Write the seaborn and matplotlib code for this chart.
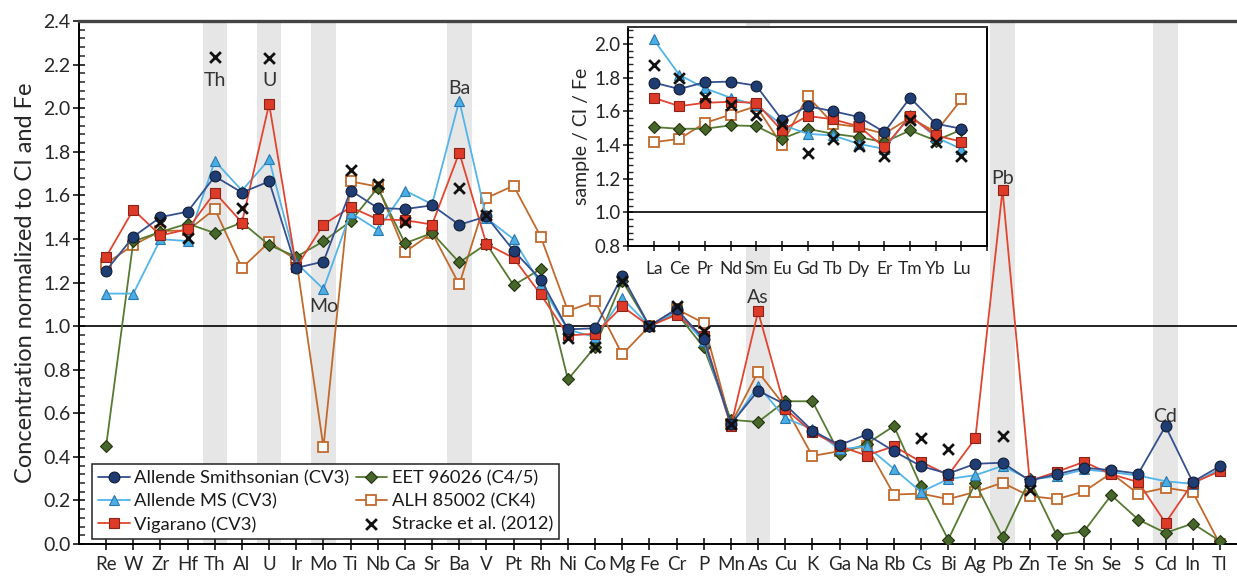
import numpy as np
import pandas as pd
import matplotlib
matplotlib.use("Agg")
import matplotlib.pyplot as plt
from matplotlib.ticker import AutoMinorLocator
import seaborn as sns

# ---- main panel: element sequence ----
elements = ["Re", "W", "Zr", "Hf", "Th", "Al", "U", "Ir", "Mo", "Ti", "Nb", "Ca", "Sr", "Ba",
            "V", "Pt", "Rh", "Ni", "Co", "Mg", "Fe", "Cr", "P", "Mn", "As", "Cu", "K", "Ga",
            "Na", "Rb", "Cs", "Bi", "Ag", "Pb", "Zn", "Te", "Sn", "Se", "S", "Cd", "In", "Tl"]

allende_smith = [1.255, 1.41, 1.50, 1.525, 1.687, 1.613, 1.664, 1.267, 1.296, 1.622, 1.542, 1.537,
                 1.554, 1.465, 1.503, 1.346, 1.213, 0.985, 0.99, 1.23, 1.0, 1.078, 0.94, 0.55,
                 0.704, 0.64, 0.52, 0.454, 0.503, 0.426, 0.357, 0.323, 0.368, 0.373, 0.291, 0.32,
                 0.35, 0.339, 0.323, 0.541, 0.285, 0.357]
allende_ms = [1.149, 1.149, 1.399, 1.39, 1.757, 1.622, 1.765, 1.29, 1.17, 1.52, 1.441, 1.622,
              1.559, 2.035, 1.495, 1.399, 1.191, 0.983, 0.95, 1.128, 1.0, 1.065, 0.93, 0.545,
              0.727, 0.577, 0.528, 0.434, 0.449, 0.345, 0.239, 0.298, 0.316, 0.358, 0.296, 0.31,
              0.342, 0.33, 0.314, 0.288, 0.276, 0.345]
vigarano = [1.318, 1.534, 1.416, 1.444, 1.613, 1.475, 2.019, 1.27, 1.466, 1.546, 1.49, 1.486,
            1.466, 1.796, 1.377, 1.3125, 1.145, 0.957, 0.965, 1.09, 1.0, 1.052, 0.954, 0.54,
            1.067, 0.62, 0.513, 0.449, 0.406, 0.449, 0.377, 0.316, 0.485, 1.626, 0.29, 0.331,
            0.377, 0.32, 0.284, 0.097, 0.28, 0.334]
eet_96026 = [0.451, 1.389, 1.432, 1.47, 1.427, 1.475, 1.372, 1.318, 1.389, 1.481, 1.635, 1.38,
             1.427, 1.292, 1.377, 1.1875, 1.262, 0.755, 0.905, 1.208, 1.0, 1.06, 0.902, 0.57,
             0.56, 0.655, 0.655, 0.414, 0.46, 0.541, 0.265, 0.02, 0.28, 0.032, 0.296, 0.04,
             0.058, 0.224, 0.112, 0.051, 0.094, 0.014]
alh_85002 = [1.287, 1.372, 1.436, 1.439, 1.537, 1.267, 1.385, 1.304, 0.444, 1.664, 1.64, 1.34,
             1.427, 1.191, 1.588, 1.644, 1.41, 1.07, 1.113, 0.87, 1.0, 1.078, 1.014, 0.55,
             0.79, 0.63, 0.404, 0.426, 0.449, 0.227, 0.231, 0.206, 0.239, 0.281, 0.22, 0.206,
             0.241, 0.325, 0.23, 0.258, 0.239, 0.0]
nan = np.nan
stracke = [nan, nan, 1.478, 1.405, 2.235, 1.542, 2.23, nan, nan, 1.715, 1.652, 1.478,
           nan, 1.635, 1.508, nan, nan, 0.947, 0.905, 1.207, 1.0, 1.093, 0.978, 0.55,
           nan, nan, nan, nan, nan, nan, 0.485, 0.434, nan, 0.495, 0.25, nan,
           nan, nan, nan, nan, nan, nan]

# highlighted elements and the height of their labels
band_elements = ["Th", "U", "Mo", "Ba", "As", "Pb", "Cd"]
band_label_y = [2.09, 2.09, 1.05, 2.05, 1.09, 1.64, 0.545]

# ---- inset: rare earth elements ----
ree = ["La", "Ce", "Pr", "Nd", "Sm", "Eu", "Gd", "Tb", "Dy", "Er", "Tm", "Yb", "Lu"]
ree_allende_smith = [1.77, 1.732, 1.772, 1.776, 1.752, 1.55, 1.63, 1.60, 1.566, 1.476, 1.68, 1.526, 1.496]
ree_allende_ms = [2.026, 1.816, 1.736, 1.68, 1.636, 1.52, 1.466, 1.456, 1.406, 1.376, 1.576, 1.446, 1.376]
ree_vigarano = [1.68, 1.63, 1.65, 1.656, 1.65, 1.486, 1.572, 1.552, 1.51, 1.386, 1.57, 1.456, 1.42]
ree_eet_96026 = [1.506, 1.496, 1.496, 1.516, 1.512, 1.436, 1.496, 1.466, 1.446, 1.416, 1.486, 1.426, 1.49]
ree_alh_85002 = [1.416, 1.436, 1.53, 1.58, 1.63, 1.40, 1.69, 1.526, 1.506, 1.466, 1.562, 1.476, 1.67]
ree_stracke = [1.876, 1.796, 1.682, 1.636, 1.576, 1.526, 1.352, 1.436, 1.396, 1.336, 1.55, 1.416, 1.336]

series_names = ["Allende Smithsonian (CV3)", "Allende MS (CV3)", "Vigarano (CV3)",
                "EET 96026 (C4/5)", "ALH 85002 (CK4)", "Stracke et al. (2012)"]

styles = {
    "Allende Smithsonian (CV3)": dict(color="#34508f", marker="o", markersize=7.8,
                                      markerfacecolor="#1f3c73", markeredgecolor="#111c33",
                                      markeredgewidth=0.8),
    "Allende MS (CV3)": dict(color="#52b4e8", marker="^", markersize=7.8,
                             markerfacecolor="#4aaee3", markeredgecolor="#2a78b0",
                             markeredgewidth=0.8),
    "Vigarano (CV3)": dict(color="#e2452f", marker="s", markersize=6.5,
                           markerfacecolor="#dd3a28", markeredgecolor="#8a2418",
                           markeredgewidth=0.8),
    "EET 96026 (C4/5)": dict(color="#567a32", marker="D", markersize=6,
                             markerfacecolor="#47662a", markeredgecolor="#22330f",
                             markeredgewidth=0.8),
    "ALH 85002 (CK4)": dict(color="#c2692c", marker="s", markersize=7,
                            markerfacecolor="white", markeredgecolor="#c2692c",
                            markeredgewidth=1.3),
}

sns.set_theme(style="white")
plt.rcParams["font.family"] = ["Lato", "DejaVu Sans"]
plt.rcParams["text.color"] = "#1a1a1a"

W, H = 1237, 577
fig = plt.figure(figsize=(W / 100, H / 100), dpi=100)
fig.patch.set_facecolor("white")

ax = fig.add_axes([79 / W, 33 / H, (1247 - 79) / W, (544 - 21) / H])
ax.set_facecolor("white")

x_main = np.arange(len(elements))
main_data = {
    "Allende Smithsonian (CV3)": allende_smith,
    "Allende MS (CV3)": allende_ms,
    "Vigarano (CV3)": vigarano,
    "EET 96026 (C4/5)": eet_96026,
    "ALH 85002 (CK4)": alh_85002,
}

# grey bands behind highlighted elements
for el, ly in zip(band_elements, band_label_y):
    i = elements.index(el)
    ax.axvspan(i - 0.45, i + 0.45, color="#e6e6e6", zorder=0, lw=0)
    ax.text(i, ly, el, ha="center", va="bottom", fontsize=14, color="#333333", zorder=6)

ax.axhline(1.0, color="black", lw=1.2, zorder=1)

draw_order = ["ALH 85002 (CK4)", "EET 96026 (C4/5)", "Allende MS (CV3)",
              "Vigarano (CV3)", "Allende Smithsonian (CV3)"]
for z, name in enumerate(draw_order):
    df = pd.DataFrame({"pos": x_main, "value": main_data[name]})
    sns.lineplot(data=df, x="pos", y="value", ax=ax, sort=False, linewidth=1.3,
                 zorder=2 + z, label=name, **styles[name])

df_st = pd.DataFrame({"pos": x_main, "value": stracke}).dropna()
sns.scatterplot(data=df_st, x="pos", y="value", ax=ax, marker="x", s=60, color="#111111",
                linewidth=2.0, zorder=9, label=series_names[-1])

ax.set_xlim(-1, 42)
ax.set_ylim(0, 2.4)
ax.set_xticks(x_main)
ax.set_xticklabels(elements, fontsize=13.5)
ax.set_yticks(np.arange(0, 2.41, 0.2))
ax.set_yticklabels([f"{v:.1f}" for v in np.arange(0, 2.41, 0.2)], fontsize=14)
ax.yaxis.set_minor_locator(AutoMinorLocator(5))
ax.tick_params(axis="y", which="major", direction="inout", length=8, width=1.3, left=True, pad=2)
ax.tick_params(axis="y", which="minor", direction="in", length=4, width=1.1, left=True)
ax.tick_params(axis="x", which="major", direction="inout", length=9, width=1.3, bottom=True, pad=4)
ax.set_xlabel("")
ax.set_ylabel("Concentration normalized to CI and Fe", fontsize=17, labelpad=5)
ax.spines["right"].set_visible(False)
ax.spines["left"].set_color("black")
ax.spines["left"].set_linewidth(1.4)
ax.spines["bottom"].set_color("black")
ax.spines["bottom"].set_linewidth(1.4)
ax.spines["top"].set_color("#444444")
ax.spines["top"].set_linewidth(2.4)

handles, labels = ax.get_legend_handles_labels()
order = [labels.index(n) for n in series_names]
leg = ax.legend([handles[i] for i in order], [labels[i] for i in order],
                loc="lower left", bbox_to_anchor=(92 / W, 38 / H), bbox_transform=fig.transFigure,
                ncol=2, fontsize=13.2, frameon=True, fancybox=False, framealpha=1,
                edgecolor="#222222", handlelength=1.7, handletextpad=0.25, columnspacing=0.35,
                labelspacing=0.36, borderpad=0.35, borderaxespad=0)
leg.get_frame().set_linewidth(1.1)
leg.set_zorder(10)

# ---- inset ----
axi = fig.add_axes([628 / W, (577 - 246) / H, (987 - 628) / W, (246 - 27) / H])
axi.set_facecolor("white")
x_ree = np.arange(len(ree))
ree_data = {
    "Allende Smithsonian (CV3)": ree_allende_smith,
    "Allende MS (CV3)": ree_allende_ms,
    "Vigarano (CV3)": ree_vigarano,
    "EET 96026 (C4/5)": ree_eet_96026,
    "ALH 85002 (CK4)": ree_alh_85002,
}
axi.axhline(1.0, color="black", lw=1.2, zorder=1)
for z, name in enumerate(draw_order):
    df = pd.DataFrame({"pos": x_ree, "value": ree_data[name]})
    sns.lineplot(data=df, x="pos", y="value", ax=axi, sort=False, linewidth=1.3,
                 zorder=2 + z, legend=False, **styles[name])
df_rs = pd.DataFrame({"pos": x_ree, "value": ree_stracke})
sns.scatterplot(data=df_rs, x="pos", y="value", ax=axi, marker="x", s=60, color="#111111",
                linewidth=2.0, zorder=9, legend=False)

axi.set_xlim(-1, 13)
axi.set_ylim(0.8, 2.1)
axi.set_xticks(np.arange(-1, 14))
axi.set_xticklabels([""] + ree + [""], fontsize=12.5)
axi.set_yticks(np.arange(0.8, 2.01, 0.2))
axi.set_yticklabels([f"{v:.1f}" for v in np.arange(0.8, 2.01, 0.2)], fontsize=13.5)
axi.yaxis.set_minor_locator(AutoMinorLocator(5))
axi.tick_params(axis="y", which="major", direction="inout", length=7, width=1.2, left=True, pad=2)
axi.tick_params(axis="y", which="minor", direction="in", length=3.5, width=1.0, left=True)
axi.tick_params(axis="x", which="major", direction="inout", length=7, width=1.2, bottom=True, pad=7)
axi.set_xlabel("")
axi.set_ylabel("sample / CI / Fe", fontsize=14, labelpad=3)
for s in axi.spines.values():
    s.set_color("black")
    s.set_linewidth(1.4)
axi.spines["top"].set_color("#333333")

fig.savefig("out.png", dpi=100, facecolor="white")
